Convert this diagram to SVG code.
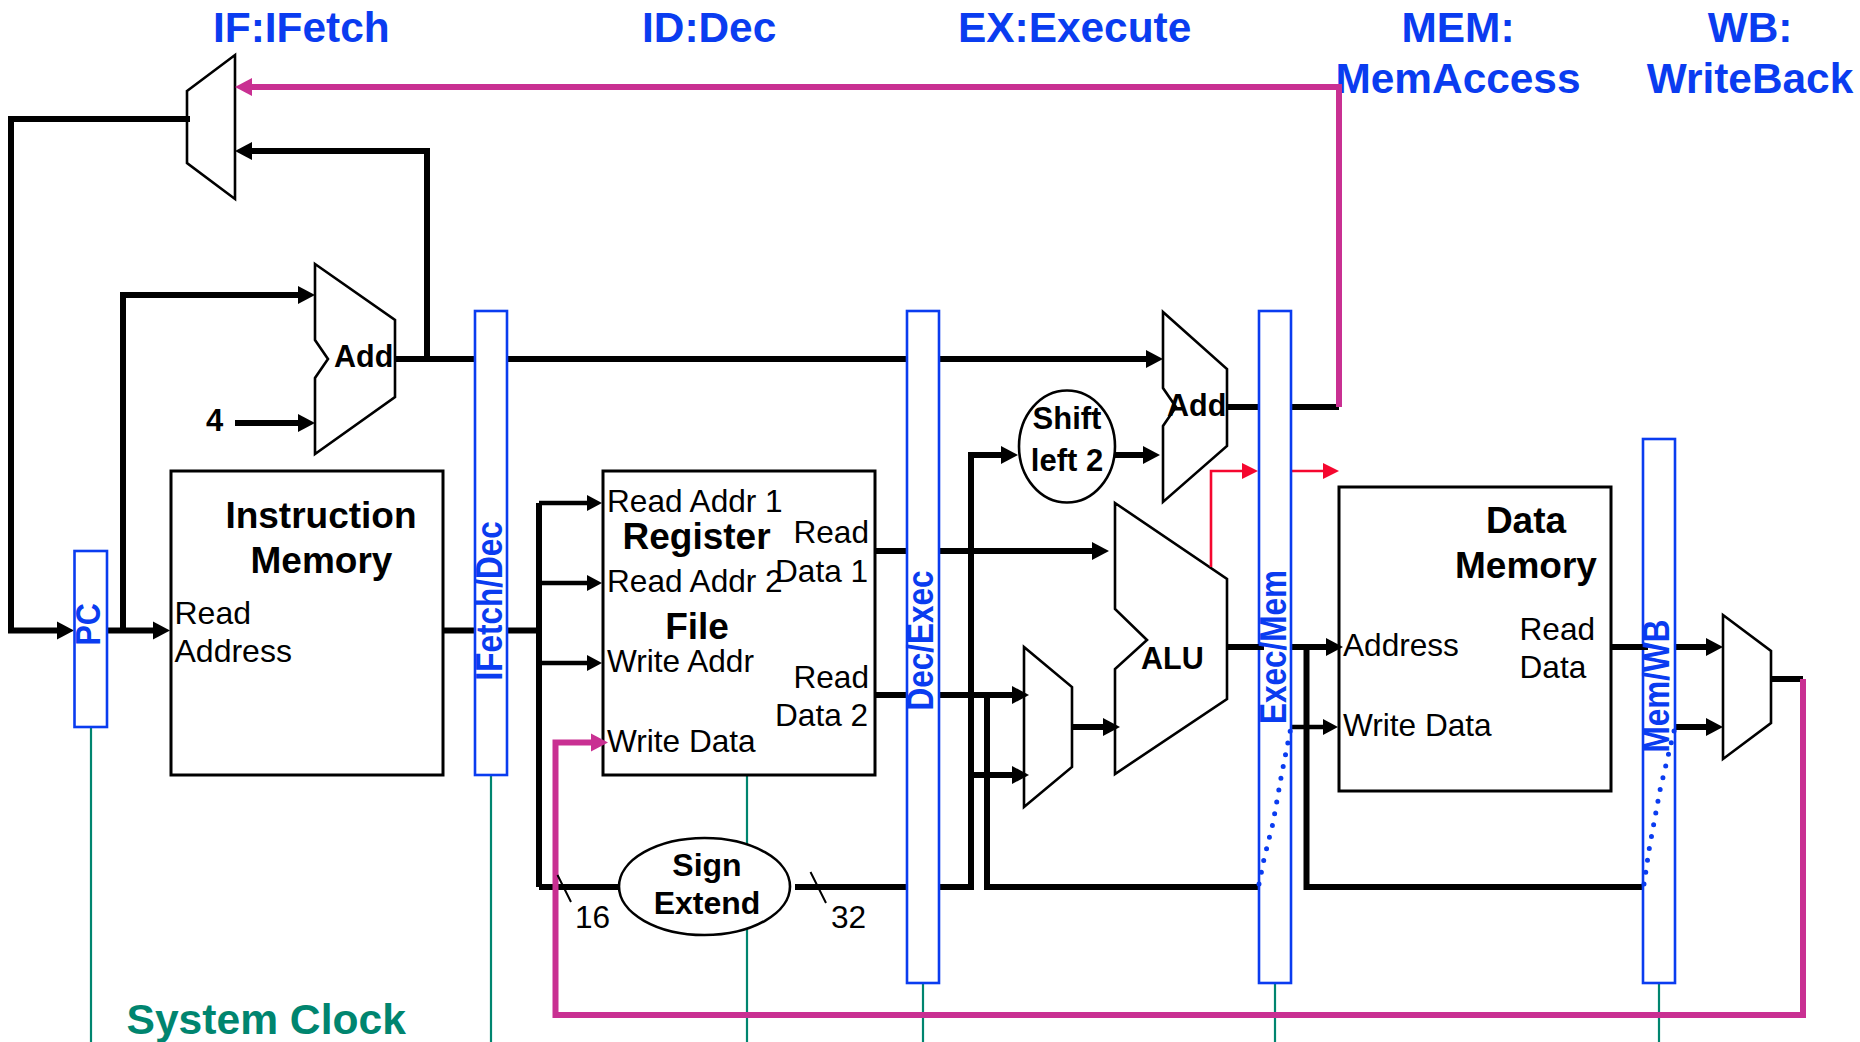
<svg xmlns="http://www.w3.org/2000/svg" width="1860" height="1042" viewBox="0 0 1860 1042">
<style>
text{font-family:"Liberation Sans",Arial,sans-serif;fill:#000}
.t{font-size:42.4px;font-weight:700;fill:#0a3cf0}
.b{font-size:37px;font-weight:700}
.a{font-size:31px;font-weight:700}
.r{font-size:31.6px}
.c{text-anchor:middle}
.v{font-size:31.5px;font-weight:700;fill:#0a3cf0}
.box{fill:#fff;stroke:#000;stroke-width:3}
.sh{fill:#fff;stroke:#000;stroke-width:2.6;stroke-linejoin:miter}
.reg{fill:#fff;stroke:#0a3cf0;stroke-width:2.6}
.w{fill:none;stroke:#000;stroke-width:6}
.n{fill:none;stroke:#000;stroke-width:4.5}
.m{fill:none;stroke:#c93092;stroke-width:6}
.red{fill:none;stroke:#f5072f;stroke-width:2.6}
.clk{fill:none;stroke:#00856f;stroke-width:2.2}
.h{fill:none;stroke:#000;stroke-width:2}
.dot{fill:none;stroke:#0a3cf0;stroke-width:5;stroke-linecap:round;stroke-dasharray:0 12}
</style>
<defs>
<marker id="ab" markerUnits="userSpaceOnUse" markerWidth="20" markerHeight="20" refX="5" refY="10" orient="auto"><path d="M0 1L17 10L0 19Z" fill="#000"/></marker>
<marker id="as" markerUnits="userSpaceOnUse" markerWidth="20" markerHeight="20" refX="5" refY="10" orient="auto"><path d="M0 2L15 10L0 18Z" fill="#000"/></marker>
<marker id="am" markerUnits="userSpaceOnUse" markerWidth="20" markerHeight="20" refX="5" refY="10" orient="auto"><path d="M0 1L17 10L0 19Z" fill="#c93092"/></marker>
<marker id="ar" markerUnits="userSpaceOnUse" markerWidth="20" markerHeight="20" refX="5" refY="10" orient="auto"><path d="M0 2L16 10L0 18Z" fill="#f5072f"/></marker>
</defs>
<g id="stage-titles">
<text class="t" x="213" y="42">IF:IFetch</text>
<text class="t" x="642" y="42">ID:Dec</text>
<text class="t" x="958" y="42">EX:Execute</text>
<text class="t c" x="1458" y="42">MEM:</text>
<text class="t c" x="1458" y="93">MemAccess</text>
<text class="t c" x="1750" y="42">WB:</text>
<text class="t c" x="1750" y="93">WriteBack</text>
<text x="126.5" y="1034" style="font-size:42.6px;font-weight:700;fill:#00856f">System Clock</text>
</g>
<g id="clock-lines">
<path class="clk" d="M91 727V1042M491 775V1042M747 775V1042M923 983V1042M1275 983V1042M1659 983V1042"/>
</g>
<g id="mux-pc"><polygon class="sh" points="187,91 235,55 235,199 187,163"/></g>
<g id="add-pc"><polygon class="sh" points="315,264 395,320 395,397 315,454 315,378 328,359 315,340"/><text class="a" x="334" y="367" style="font-size:30.5px">Add</text></g>
<g id="constant-4"><text class="a" x="206" y="431" style="font-size:31px">4</text></g>
<g id="instruction-memory"><rect class="box" x="171" y="471" width="272" height="304"/>
<text class="b c" x="321" y="528">Instruction</text><text class="b c" x="321.5" y="573">Memory</text>
<text class="r" x="174.5" y="624" style="font-size:32px">Read</text><text class="r" x="174.5" y="662" style="font-size:32px">Address</text></g>
<g id="register-file"><rect class="box" x="603" y="471" width="272" height="304"/>
<text class="r" x="607" y="512">Read Addr 1</text><text class="b" x="622.5" y="549">Register</text><text class="r" x="607" y="592">Read Addr 2</text><text class="b c" x="697" y="639">File</text><text class="r" x="607" y="672">Write Addr</text><text class="r" x="607" y="752">Write Data</text>
<text class="r" x="869" y="543" text-anchor="end">Read</text><text class="r" x="775" y="582">Data 1</text><text class="r" x="869" y="688" text-anchor="end">Read</text><text class="r" x="775" y="726">Data 2</text></g>
<g id="sign-extend"><ellipse class="sh" cx="704.5" cy="886.5" rx="85.5" ry="48.5"/><text class="a c" x="707" y="876" style="font-size:32px">Sign</text><text class="a c" x="707" y="914" style="font-size:32px">Extend</text></g>
<g id="shift-left"><ellipse class="sh" cx="1067" cy="446.5" rx="48" ry="56"/><text class="a c" x="1067" y="429">Shift</text><text class="a c" x="1067" y="471">left 2</text></g>
<g id="add-branch"><polygon class="sh" points="1163,312 1227,369 1227,446 1163,502 1163,426 1176,407 1163,388"/><text class="a" x="1167" y="416" style="font-size:30.5px">Add</text></g>
<g id="mux-alu"><polygon class="sh" points="1024,647 1072,687 1072,767 1024,807"/></g>
<g id="alu"><polygon class="sh" points="1115,503 1227,579 1227,699 1115,774 1115,669 1147,640 1115,609"/><text class="a" x="1141" y="668.5" style="font-size:30.5px">ALU</text></g>
<g id="data-memory"><rect class="box" x="1339" y="487" width="272" height="304"/>
<text class="b c" x="1526" y="533">Data</text><text class="b c" x="1526" y="578">Memory</text>
<text class="r" x="1343" y="656">Address</text><text class="r" x="1343" y="736">Write Data</text><text class="r" x="1519.5" y="640">Read</text><text class="r" x="1519.5" y="678">Data</text></g>
<g id="mux-wb"><polygon class="sh" points="1723,615 1771,651 1771,723 1723,759"/></g>
<g id="connectors">
<path class="w" d="M190 119H11V630.5H62" marker-end="url(#ab)"/>
<path class="w" d="M107 630.5H158" marker-end="url(#ab)"/>
<path class="w" d="M123 630.5V295H303" marker-end="url(#ab)"/>
<path class="w" d="M235 423H303" marker-end="url(#ab)"/>
<path class="w" d="M395 359H427V151H247" marker-end="url(#ab)"/>
<path class="w" d="M427 359H1151" marker-end="url(#ab)"/>
<path class="w" d="M443 630.5H539"/>
<path class="w" d="M539 887V503"/>
<path class="n" d="M539 503H592" marker-end="url(#as)"/>
<path class="n" d="M539 583H592" marker-end="url(#as)"/>
<path class="n" d="M539 663H592" marker-end="url(#as)"/>
<path class="w" d="M539 887H619M795 887H971V455H1006" marker-end="url(#ab)"/>
<path class="w" d="M875 551H1097" marker-end="url(#ab)"/>
<path class="w" d="M875 695H1017" marker-end="url(#ab)"/>
<path class="w" d="M971 775H1017" marker-end="url(#ab)"/>
<path class="w" d="M987 695V887H1259"/>
<path class="w" d="M1072 727H1108" marker-end="url(#ab)"/>
<path class="w" d="M1115 455H1148" marker-end="url(#ab)"/>
<path class="w" d="M1227 407H1339"/>
<path class="w" d="M1227 647H1331" marker-end="url(#ab)"/>
<path class="w" d="M1306.5 647V887H1644"/>
<path class="n" d="M1291 727H1328" marker-end="url(#as)"/>
<path class="w" d="M1611 647H1660M1675 647H1711" marker-end="url(#ab)"/>
<path class="w" d="M1675 727H1711" marker-end="url(#ab)"/>
<path class="w" d="M1771 679H1803"/>
<path class="red" d="M1211 567V471H1247" marker-end="url(#ar)"/>
<path class="red" d="M1291 471H1328" marker-end="url(#ar)"/>
<path class="m" d="M1339 407V87H247" marker-end="url(#am)"/>
<path class="m" d="M1803 679V1015H555.5V742.5H596" marker-end="url(#am)"/>
<path class="h" d="M557.5 875L571 902M810.5 872L826 903"/>
</g>
<g id="bus-labels"><text class="r" x="575" y="928">16</text><text class="r" x="831" y="928">32</text></g>
<g id="reg-pc"><rect class="reg" x="74.5" y="551" width="32.5" height="176"/><text class="v" transform="translate(100 645.5) rotate(-90) scale(1 1.16)" style="font-size:30.5px">PC</text></g>
<g id="reg-ifetch-dec"><rect class="reg" x="475" y="311" width="32" height="464"/><text class="v" transform="translate(501.5 680.5) rotate(-90) scale(1 1.16)">IFetch/Dec</text></g>
<g id="reg-dec-exec"><rect class="reg" x="907" y="311" width="32" height="672"/><text class="v" transform="translate(933 710.5) rotate(-90) scale(1 1.16)">Dec/Exec</text></g>
<g id="reg-exec-mem"><rect class="reg" x="1259" y="311" width="32" height="672"/></g>
<g id="reg-mem-wb"><rect class="reg" x="1643" y="439" width="32" height="544"/></g>
<g id="overlays">
<path class="w" d="M1250 647H1264M1611 647H1648"/>
<text class="v" transform="translate(1285.5 724) rotate(-90) scale(1 1.16)">Exec/Mem</text>
<text class="v" transform="translate(1669 752.5) rotate(-90) scale(1 1.16)">Mem/WB</text>
<path class="dot" d="M1259 884L1264 859L1273 823L1281.5 775L1291 727"/>
<path class="dot" d="M1644 884L1649 850L1660 790L1675 727"/>
</g>
</svg>
